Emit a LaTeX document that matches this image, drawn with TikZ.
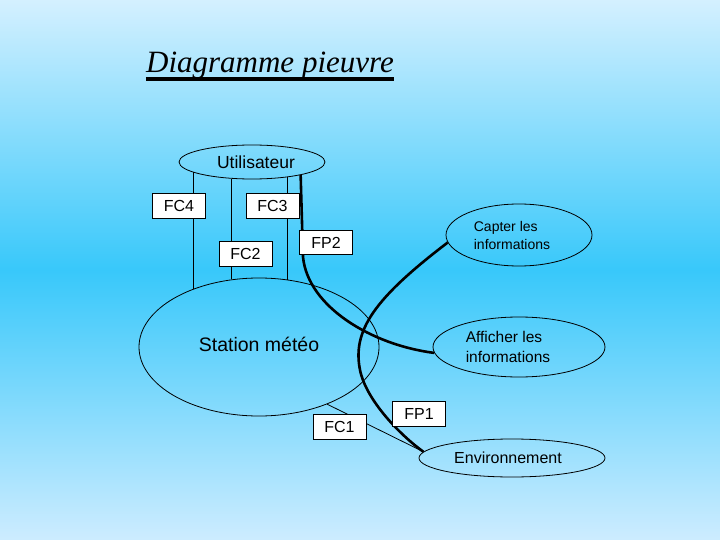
\documentclass[tikz,border=0pt]{standalone}
\usepackage{fontspec}
\setmainfont{Liberation Sans}
\newfontfamily\titlefont{Liberation Serif}
\usetikzlibrary{shapes.geometric}
\definecolor{skytop}{RGB}{212,240,255}
\definecolor{skymid}{RGB}{56,200,250}
\definecolor{skybot}{RGB}{205,236,255}

\begin{document}
\begin{tikzpicture}[x=1pt, y=-1pt, font=\fontsize{16}{18}\selectfont,
  actor/.style={ellipse, draw, line width=0.8pt, inner sep=0pt, align=left},
  fcbox/.style={draw, fill=white, line width=0.8pt, minimum width=53, minimum height=25, inner sep=0pt},
  thinlink/.style={line width=0.8pt},
  fplink/.style={line width=2.6pt}]
\useasboundingbox (0,0) rectangle (720,540);
\shade[top color=skytop, bottom color=skybot, middle color=skymid] (0,0) rectangle (720,540);
\node[inner sep=0pt] (title) at (270,66) {\titlefont\itshape\fontsize{31}{34}\selectfont Diagramme pieuvre};
\draw[line width=3.5pt] ([yshift=-6pt]title.base west) -- ([yshift=-6pt]title.base east);
\node[actor, minimum width=146, minimum height=34, font=\fontsize{17.5}{20}\selectfont] (util) at (252,162) {Utilisateur\hspace*{-8pt}};
\node[actor, minimum width=240, minimum height=138, font=\fontsize{19.5}{22}\selectfont] (station) at (259,347) {\raisebox{6pt}{Station météo}};
\node[actor, minimum width=146, minimum height=62, font=\fontsize{14}{18}\selectfont] (capt) at (519,235) {Capter les\\informations\hspace*{14pt}};
\node[actor, minimum width=172, minimum height=60, font=\fontsize{15.5}{20}\selectfont] (affi) at (519,347) {Afficher les\\informations\hspace*{22pt}};
\node[actor, minimum width=186, minimum height=38] (env) at (512,458) {Environnement\hspace*{8pt}};
\draw[thinlink] (util.190) -- (util.190 |- station.139);
\draw[thinlink] (util.219) -- (util.219 |- station.112);
\draw[thinlink] (util.337) -- (util.337 |- station.67);
\draw[thinlink] (station.320) -- (env.176);
\draw[fplink] (util.345) -- (303,257) .. controls (308,307) and (372,345) .. (affi.184);
\draw[fplink] (capt.186) .. controls (375,298) and (352,330) .. (360,370)
  .. controls (366,400) and (400,435) .. (env.176);
\node[fcbox] (fc4) at (179,205.5) {FC4};
\node[fcbox] (fc3) at (272.5,205.5) {FC3};
\node[fcbox] (fc2) at (245.5,254) {FC2};
\node[fcbox, minimum height=24] (fp2) at (326,242.5) {FP2};
\node[fcbox] (fp1) at (419,414) {FP1};
\node[fcbox] (fc1) at (339.5,426.5) {FC1};
\end{tikzpicture}
\end{document}
